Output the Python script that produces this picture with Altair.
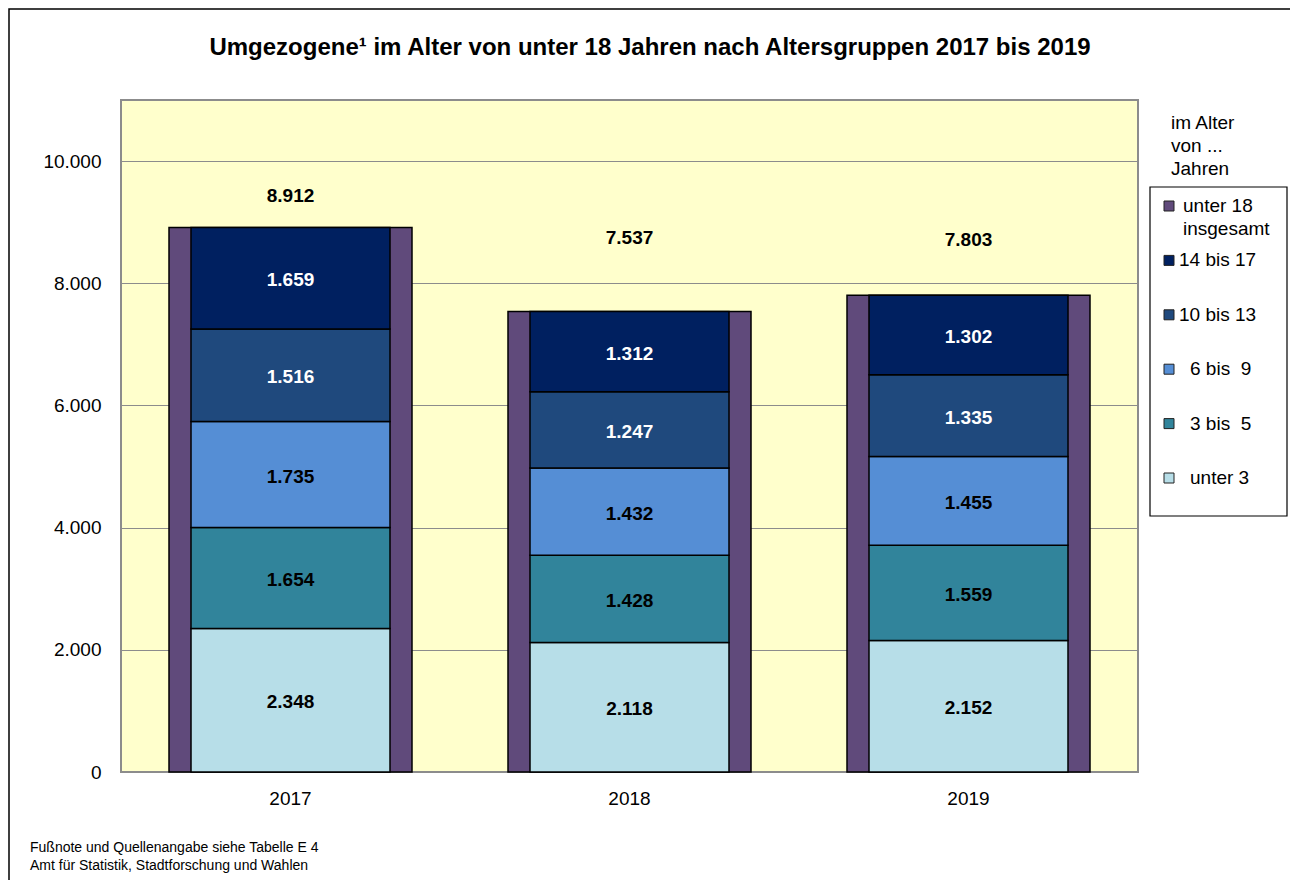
import altair as alt
import pandas as pd

# ---------------- data ----------------
years = ["2017", "2018", "2019"]
groups = ["unter 3", "3 bis 5", "6 bis 9", "10 bis 13", "14 bis 17"]
unter_3 = [2348, 2118, 2152]
bis_5 = [1654, 1428, 1559]
bis_9 = [1735, 1432, 1455]
bis_13 = [1516, 1247, 1335]
bis_17 = [1659, 1312, 1302]
totals = [8912, 7537, 7803]
total_label_at = [9430, 8740, 8710]  # where the total labels sit (data units)

legend_labels = ["unter 18\ninsgesamt", "14 bis 17", "10 bis 13",
                 "6 bis \u00a09", "3 bis \u00a05", "unter 3"]
legend_indent = [4, 0, 0, 11, 11, 11]

# ---------------- styles ----------------
seg_colors = ["#B7DEE8", "#31849B", "#558ED5", "#1F497D", "#002060"]
total_color = "#604A7B"
white_text_groups = ["10 bis 13", "14 bis 17"]
FONT = "Liberation Sans"

series = [unter_3, bis_5, bis_9, bis_13, bis_17]
rows = []
for gi, (g, vals) in enumerate(zip(groups, series)):
    for y, v in zip(years, vals):
        rows.append({"year": y, "group": g, "order": gi, "value": v,
                     "tc": "white" if g in white_text_groups else "black"})
seg_df = pd.DataFrame(rows)
tot_df = pd.DataFrame({"year": years, "total": totals, "labely": total_label_at})
leg_df = pd.DataFrame({"idx": list(range(6)), "label": legend_labels,
                       "indent": legend_indent,
                       "color": [total_color] + seg_colors[::-1]})
one = pd.DataFrame({"a": [0]})

fmt = "replace(format({v}, ','), ',', '.')"

x_enc = alt.X("year:N", scale=alt.Scale(paddingInner=0, paddingOuter=0),
              axis=alt.Axis(title=None, labelAngle=0, ticks=False, labelPadding=17,
                            labelFontSize=19, labelFont=FONT, labelColor="black",
                            domain=False))
y_scale = alt.Scale(domain=[0, 11000], nice=False)
y_axis = alt.Axis(title=None, values=[0, 2000, 4000, 6000, 8000, 10000],
                  labelExpr=fmt.format(v="datum.value"), ticks=False, labelPadding=20,
                  labelFontSize=19, labelFont=FONT, labelColor="black",
                  domain=False, grid=True, gridColor="#8C8C8C", gridWidth=1.2)

frame = alt.Chart(one).mark_rect(fill=None, stroke="black", strokeWidth=1.5).encode(
    x=alt.value(-112), x2=alt.value(1300), y=alt.value(-91), y2=alt.value(900))

total_bars = alt.Chart(tot_df).mark_bar(width=243, color=total_color, stroke="black",
                                        strokeWidth=1.5).encode(
    x=x_enc, y=alt.Y("total:Q", scale=y_scale, axis=y_axis))

seg_bars = alt.Chart(seg_df).mark_bar(width=199, stroke="black", strokeWidth=1.5).encode(
    x="year:N",
    y=alt.Y("value:Q", stack="zero"),
    color=alt.Color("group:N", scale=alt.Scale(domain=groups, range=seg_colors), legend=None),
    order=alt.Order("order:Q"))

seg_text = alt.Chart(seg_df).transform_stack(
    stack="value", groupby=["year"], as_=["y0", "y1"], sort=[alt.SortField("order")]
).transform_calculate(
    mid="(datum.y0 + datum.y1) / 2", lab=fmt.format(v="datum.value")
).mark_text(fontSize=19, fontWeight="bold", font=FONT, baseline="middle", dy=2).encode(
    x="year:N", y="mid:Q", text="lab:N", color=alt.Color("tc:N", scale=None))

tot_text = alt.Chart(tot_df).transform_calculate(lab=fmt.format(v="datum.total")).mark_text(
    fontSize=19, fontWeight="bold", font=FONT, baseline="middle", color="black").encode(
    x="year:N", y="labely:Q", text="lab:N")

bars = alt.layer(total_bars, seg_bars, seg_text, tot_text)

leg_box = alt.Chart(one).mark_rect(fill="white", stroke="black", strokeWidth=1.2).encode(
    x=alt.value(1029), x2=alt.value(1166), y=alt.value(87), y2=alt.value(416))

leg_y = alt.Y("idx:O", scale=alt.Scale(type="point", range=[106, 378], padding=0), axis=None)
leg_sym = alt.Chart(leg_df).mark_square(size=100, opacity=1, stroke="#222222",
                                        strokeWidth=1).encode(
    x=alt.value(1048), y=leg_y, fill=alt.Fill("color:N", scale=None))


def leg_text(indent):
    return alt.Chart(leg_df).transform_filter(
        alt.datum.indent == indent
    ).mark_text(align="left", baseline="top", dy=-9, dx=indent, fontSize=19,
                font=FONT, lineBreak="\n", lineHeight=23, color="black").encode(
        x=alt.value(1058), y=leg_y, text="label:N")


leg_txts = [leg_text(i) for i in sorted(set(legend_indent))]

leg_title = alt.Chart(one).mark_text(align="left", baseline="top", dy=-9, fontSize=19,
                                     font=FONT, lineBreak="\n", lineHeight=23,
                                     color="black").encode(
    x=alt.value(1050), y=alt.value(23), text=alt.value("im Alter\nvon ...\nJahren"))

title = alt.Chart(one).mark_text(align="center", baseline="middle", fontSize=24,
                                 fontWeight="bold", font=FONT, color="black").encode(
    x=alt.value(529), y=alt.value(-52),
    text=alt.value("Umgezogene\u00b9 im Alter von unter 18 Jahren nach Altersgruppen 2017 bis 2019"))

foot = alt.Chart(one).mark_text(align="left", baseline="middle", fontSize=14, font=FONT,
                                lineBreak="\n", lineHeight=18, color="black").encode(
    x=alt.value(-91), y=alt.value(748),
    text=alt.value("Fußnote und Quellenangabe siehe Tabelle E 4\nAmt für Statistik, Stadtforschung und Wahlen"))

legend = alt.layer(leg_box, leg_sym, *leg_txts, leg_title)

chart = alt.layer(frame, bars, legend, title, foot).resolve_scale(
    y="independent").properties(
    width=1017, height=672, autosize=alt.AutoSizeParams(type="none"),
    padding={"left": 113, "top": 92, "right": 152, "bottom": 108},
    background="white"
).configure_view(fill="#FFFFCC", stroke="#8C8C8C", strokeWidth=2)

chart.save("out.html", embed_options={"renderer": "svg", "actions": False})
